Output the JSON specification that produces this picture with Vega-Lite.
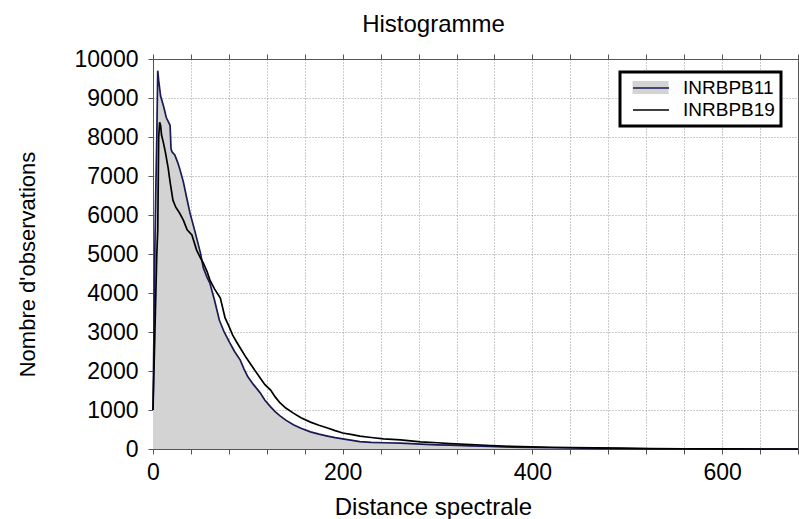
{
  "$schema": "https://vega.github.io/schema/vega-lite/v6.json",
  "width": 645,
  "height": 390,
  "autosize": {"type": "none"},
  "padding": {"left": 153, "top": 59, "right": 1, "bottom": 70},
  "background": "white",
  "config": {"font": "Liberation Sans", "view": {"stroke": null}, "legend": {"strokeWidth": 3}},
  "title": {"text": "Histogramme", "fontSize": 24, "fontWeight": "normal", "color": "black", "dx": -42, "dy": 29, "offset": 21, "anchor": "middle", "baseline": "alphabetic"},
  "data": {"values": [
    {"d":0,"n":1000,"s":"INRBPB11"},{"d":1,"n":3000,"s":"INRBPB11"},{"d":2,"n":5200,"s":"INRBPB11"},{"d":3,"n":6700,"s":"INRBPB11"},{"d":4,"n":8000,"s":"INRBPB11"},{"d":5,"n":9700,"s":"INRBPB11"},{"d":6,"n":9450,"s":"INRBPB11"},{"d":8,"n":9050,"s":"INRBPB11"},{"d":11,"n":8800,"s":"INRBPB11"},{"d":14,"n":8500,"s":"INRBPB11"},{"d":18,"n":8300,"s":"INRBPB11"},{"d":19,"n":7700,"s":"INRBPB11"},{"d":20,"n":7620,"s":"INRBPB11"},{"d":23,"n":7540,"s":"INRBPB11"},{"d":26,"n":7350,"s":"INRBPB11"},{"d":28,"n":7200,"s":"INRBPB11"},{"d":32,"n":6850,"s":"INRBPB11"},{"d":35,"n":6500,"s":"INRBPB11"},{"d":39,"n":6050,"s":"INRBPB11"},{"d":44,"n":5600,"s":"INRBPB11"},{"d":50,"n":5030,"s":"INRBPB11"},{"d":53,"n":4650,"s":"INRBPB11"},{"d":57,"n":4400,"s":"INRBPB11"},{"d":60,"n":4250,"s":"INRBPB11"},{"d":65,"n":3800,"s":"INRBPB11"},{"d":70,"n":3300,"s":"INRBPB11"},{"d":75,"n":3000,"s":"INRBPB11"},{"d":81,"n":2720,"s":"INRBPB11"},{"d":86,"n":2500,"s":"INRBPB11"},{"d":92,"n":2280,"s":"INRBPB11"},{"d":96,"n":2050,"s":"INRBPB11"},{"d":100,"n":1850,"s":"INRBPB11"},{"d":106,"n":1650,"s":"INRBPB11"},{"d":113,"n":1440,"s":"INRBPB11"},{"d":118,"n":1250,"s":"INRBPB11"},{"d":124,"n":1080,"s":"INRBPB11"},{"d":129,"n":950,"s":"INRBPB11"},{"d":134,"n":850,"s":"INRBPB11"},{"d":140,"n":740,"s":"INRBPB11"},{"d":148,"n":620,"s":"INRBPB11"},{"d":156,"n":530,"s":"INRBPB11"},{"d":166,"n":440,"s":"INRBPB11"},{"d":175,"n":380,"s":"INRBPB11"},{"d":184,"n":330,"s":"INRBPB11"},{"d":192,"n":290,"s":"INRBPB11"},{"d":200,"n":260,"s":"INRBPB11"},{"d":210,"n":220,"s":"INRBPB11"},{"d":218,"n":190,"s":"INRBPB11"},{"d":230,"n":170,"s":"INRBPB11"},{"d":243,"n":160,"s":"INRBPB11"},{"d":261,"n":150,"s":"INRBPB11"},{"d":282,"n":125,"s":"INRBPB11"},{"d":300,"n":108,"s":"INRBPB11"},{"d":313,"n":98,"s":"INRBPB11"},{"d":335,"n":80,"s":"INRBPB11"},{"d":356,"n":65,"s":"INRBPB11"},{"d":377,"n":50,"s":"INRBPB11"},{"d":398,"n":40,"s":"INRBPB11"},{"d":420,"n":32,"s":"INRBPB11"},{"d":440,"n":25,"s":"INRBPB11"},{"d":466,"n":18,"s":"INRBPB11"},{"d":493,"n":10,"s":"INRBPB11"},{"d":524,"n":6,"s":"INRBPB11"},{"d":560,"n":3,"s":"INRBPB11"},{"d":600,"n":1,"s":"INRBPB11"},{"d":650,"n":0,"s":"INRBPB11"},{"d":680,"n":0,"s":"INRBPB11"},
    {"d":0,"n":1000,"s":"INRBPB19"},{"d":1,"n":2000,"s":"INRBPB19"},{"d":2,"n":3000,"s":"INRBPB19"},{"d":3,"n":4000,"s":"INRBPB19"},{"d":4,"n":5000,"s":"INRBPB19"},{"d":5,"n":5600,"s":"INRBPB19"},{"d":6,"n":8000,"s":"INRBPB19"},{"d":7,"n":8380,"s":"INRBPB19"},{"d":8,"n":8300,"s":"INRBPB19"},{"d":9,"n":8050,"s":"INRBPB19"},{"d":11,"n":7850,"s":"INRBPB19"},{"d":13,"n":7620,"s":"INRBPB19"},{"d":16,"n":7200,"s":"INRBPB19"},{"d":18,"n":6850,"s":"INRBPB19"},{"d":21,"n":6380,"s":"INRBPB19"},{"d":24,"n":6200,"s":"INRBPB19"},{"d":28,"n":6050,"s":"INRBPB19"},{"d":32,"n":5870,"s":"INRBPB19"},{"d":36,"n":5620,"s":"INRBPB19"},{"d":41,"n":5490,"s":"INRBPB19"},{"d":46,"n":5100,"s":"INRBPB19"},{"d":50,"n":4900,"s":"INRBPB19"},{"d":53,"n":4770,"s":"INRBPB19"},{"d":57,"n":4550,"s":"INRBPB19"},{"d":60,"n":4330,"s":"INRBPB19"},{"d":65,"n":4100,"s":"INRBPB19"},{"d":71,"n":3870,"s":"INRBPB19"},{"d":76,"n":3360,"s":"INRBPB19"},{"d":80,"n":3150,"s":"INRBPB19"},{"d":84,"n":2920,"s":"INRBPB19"},{"d":88,"n":2750,"s":"INRBPB19"},{"d":92,"n":2590,"s":"INRBPB19"},{"d":98,"n":2350,"s":"INRBPB19"},{"d":105,"n":2100,"s":"INRBPB19"},{"d":113,"n":1820,"s":"INRBPB19"},{"d":118,"n":1650,"s":"INRBPB19"},{"d":124,"n":1510,"s":"INRBPB19"},{"d":129,"n":1330,"s":"INRBPB19"},{"d":134,"n":1180,"s":"INRBPB19"},{"d":140,"n":1050,"s":"INRBPB19"},{"d":148,"n":920,"s":"INRBPB19"},{"d":156,"n":800,"s":"INRBPB19"},{"d":166,"n":690,"s":"INRBPB19"},{"d":175,"n":610,"s":"INRBPB19"},{"d":184,"n":540,"s":"INRBPB19"},{"d":192,"n":470,"s":"INRBPB19"},{"d":200,"n":410,"s":"INRBPB19"},{"d":210,"n":370,"s":"INRBPB19"},{"d":218,"n":330,"s":"INRBPB19"},{"d":230,"n":295,"s":"INRBPB19"},{"d":243,"n":260,"s":"INRBPB19"},{"d":261,"n":235,"s":"INRBPB19"},{"d":282,"n":185,"s":"INRBPB19"},{"d":300,"n":160,"s":"INRBPB19"},{"d":313,"n":140,"s":"INRBPB19"},{"d":335,"n":115,"s":"INRBPB19"},{"d":356,"n":90,"s":"INRBPB19"},{"d":377,"n":70,"s":"INRBPB19"},{"d":398,"n":55,"s":"INRBPB19"},{"d":420,"n":45,"s":"INRBPB19"},{"d":440,"n":38,"s":"INRBPB19"},{"d":466,"n":28,"s":"INRBPB19"},{"d":493,"n":20,"s":"INRBPB19"},{"d":524,"n":12,"s":"INRBPB19"},{"d":560,"n":6,"s":"INRBPB19"},{"d":600,"n":2,"s":"INRBPB19"},{"d":650,"n":0,"s":"INRBPB19"},{"d":680,"n":0,"s":"INRBPB19"}
  ]},
  "layer": [
    {
      "transform": [{"filter": "datum.s === 'INRBPB11'"}],
      "mark": {"type": "area", "interpolate": "linear", "opacity": 1},
      "encoding": {
        "x": {"field": "d", "type": "quantitative", "scale": {"domain": [0, 680], "nice": false, "zero": false},
          "axis": {"orient": "bottom", "values": [0,40,80,120,160,200,240,280,320,360,400,440,480,520,560,600,640,680],
            "labelExpr": "datum.value % 200 === 0 ? datum.label : ''", "format": "d",
            "grid": true, "gridDash": [1, 2], "gridColor": "#999999", "domainColor": "#555555", "tickColor": "#555555", "tickSize": 5,
            "labelFontSize": 23, "labelColor": "black", "labelPadding": 7, "labelFlush": false, "labelOverlap": false,
            "title": "Distance spectrale", "titleFontSize": 24, "titleFontWeight": "normal", "titleColor": "black",
            "titleX": 280, "titleY": 65, "titleBaseline": "alphabetic", "titleAlign": "center"}},
        "y": {"field": "n", "type": "quantitative", "scale": {"domain": [0, 10000], "nice": false},
          "axis": {"orient": "left", "values": [0,1000,2000,3000,4000,5000,6000,7000,8000,9000,10000], "format": "d",
            "grid": true, "gridDash": [1, 2], "gridColor": "#999999", "domainColor": "#555555", "tickColor": "#555555", "tickSize": 5,
            "labelFontSize": 23, "labelColor": "black", "labelPadding": 10, "labelFlush": false, "labelOverlap": false,
            "title": "Nombre d'observations", "titleFontSize": 22, "titleFontWeight": "normal", "titleColor": "black",
            "titleX": -119, "titleY": 205, "titleAngle": -90, "titleBaseline": "alphabetic", "titleAlign": "center"}},
        "fill": {"field": "s", "type": "nominal", "scale": {"domain": ["INRBPB11", "INRBPB19"], "range": ["#d3d3d3", "transparent"]},
          "legend": {"orient": "none", "legendX": 467, "legendY": 13, "title": null,
            "symbolType": "M-1,-0.72H3V0.72H-1Z", "symbolSize": 324, "symbolStrokeWidth": 0, "symbolStrokeColor": "transparent",
            "labelFontSize": 19, "labelColor": "black", "labelOffset": 32, "padding": 6, "rowPadding": 2, "symbolOffset": 6,
            "fillColor": "white", "strokeColor": "black"}}
      }
    },
    {
      "mark": {"type": "line", "strokeWidth": 1.7, "interpolate": "linear"},
      "encoding": {
        "x": {"field": "d", "type": "quantitative",
          "axis": {"orient": "top", "values": [0,40,80,120,160,200,240,280,320,360,400,440,480,520,560,600,640,680],
            "labels": false, "grid": false, "domainColor": "#555555", "tickColor": "#555555", "tickSize": 5, "title": null}},
        "y": {"field": "n", "type": "quantitative",
          "axis": {"orient": "right", "values": [0,1000,2000,3000,4000,5000,6000,7000,8000,9000,10000],
            "labels": false, "grid": false, "domainColor": "#555555", "tickColor": "#555555", "tickSize": 4, "title": null}},
        "stroke": {"field": "s", "type": "nominal", "scale": {"range": ["#1a1a55", "#000000"]},
          "legend": {"orient": "none", "legendX": 467, "legendY": 13, "title": null,
            "symbolType": "M-1,0H3", "symbolSize": 324, "symbolStrokeWidth": 1.6,
            "labelFontSize": 19, "labelColor": "transparent", "labelOffset": 32, "padding": 6, "rowPadding": 2, "symbolOffset": 6}}
      }
    }
  ],
  "resolve": {"axis": {"x": "independent", "y": "independent"}}
}
